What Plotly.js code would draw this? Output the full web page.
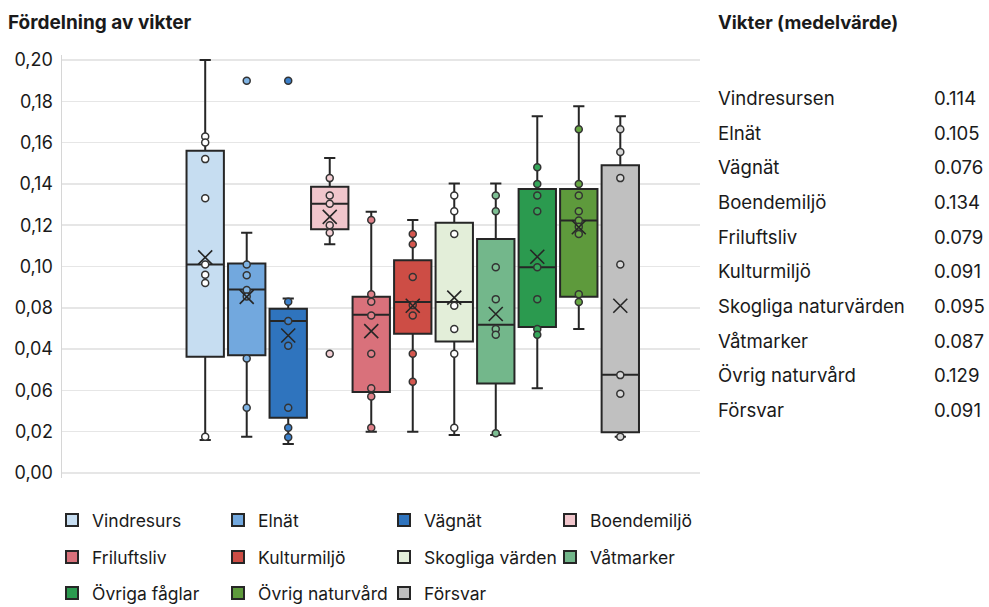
<!DOCTYPE html>
<html>
<head>
<meta charset="utf-8">
<script src="https://cdn.plot.ly/plotly-3.0.1.min.js"></script>
<style>html,body{margin:0;padding:0;background:#fff;}#chart{width:989px;height:607px;}</style>
</head>
<body>
<div id="chart"></div>
<script>
// ---- data ----
var categories = ["Vindresurs","Elnät","Vägnät","Boendemiljö","Friluftsliv","Kulturmiljö","Skogliga värden","Våtmarker","Övriga fåglar","Övrig naturvård","Försvar"];
var lowerFence = [0.016, 0.0176, 0.014, 0.1108, 0.020, 0.020, 0.0184, 0.0184, 0.041, 0.0697, 0.0176];
var q1Values   = [0.0563, 0.057, 0.0268, 0.118, 0.0392, 0.0674, 0.0637, 0.0434, 0.0707, 0.0853, 0.0197];
var medianValues = [0.101, 0.0889, 0.0736, 0.1304, 0.0766, 0.0828, 0.0828, 0.0718, 0.0996, 0.1223, 0.0476];
var q3Values   = [0.156, 0.1015, 0.0795, 0.1386, 0.0853, 0.103, 0.1212, 0.1133, 0.1375, 0.1375, 0.149];
var upperFence = [0.200, 0.1163, 0.0845, 0.1525, 0.1265, 0.1225, 0.1402, 0.1402, 0.1728, 0.1776, 0.1728];
var meanValues = [0.1044, 0.0853, 0.0666, 0.124, 0.0687, 0.081, 0.0849, 0.077, 0.1047, 0.119, 0.081];
var samplePoints = [
  [0.163, 0.160, 0.152, 0.133, 0.101, 0.096, 0.092, 0.0176],
  [0.190, 0.101, 0.0958, 0.0886, 0.0855, 0.0555, 0.0316],
  [0.190, 0.0829, 0.0736, 0.0616, 0.0316, 0.0219, 0.0173],
  [0.1428, 0.1344, 0.1304, 0.120, 0.1163, 0.0578],
  [0.1225, 0.0866, 0.0829, 0.0763, 0.0578, 0.041, 0.037, 0.0219],
  [0.1157, 0.1108, 0.0949, 0.0813, 0.0763, 0.0578, 0.0442],
  [0.1344, 0.1267, 0.1157, 0.081, 0.0697, 0.0578, 0.0219],
  [0.1344, 0.1267, 0.0996, 0.0842, 0.0697, 0.067, 0.0192],
  [0.1481, 0.140, 0.1344, 0.1267, 0.0996, 0.0842, 0.0697, 0.067],
  [0.1665, 0.140, 0.1344, 0.1267, 0.1223, 0.1192, 0.1157, 0.0866, 0.0828],
  [0.1665, 0.1554, 0.1428, 0.101, 0.0474, 0.0384, 0.0176]
];
var yTickValues = [0, 0.02, 0.04, 0.06, 0.08, 0.10, 0.12, 0.14, 0.16, 0.18, 0.20];
var yTickLabels = ["0,00","0,02","0,06","0,04","0,08","0,10","0,12","0,14","0,16","0,18","0,20"];
var tableTitle = "Vikter (medelvärde)";
var tableNames = ["Vindresursen","Elnät","Vägnät","Boendemiljö","Friluftsliv","Kulturmiljö","Skogliga naturvärden","Våtmarker","Övrig naturvård","Försvar"];
var tableValues = ["0.114","0.105","0.076","0.134","0.079","0.091","0.095","0.087","0.129","0.091"];

// ---- styles ----
var boxColors   = ["#c6ddf1","#72a8de","#2f74be","#f1c6cc","#d9717b","#cd4d45","#e3eed9","#73b78b","#2b9a4f","#5e9a3c","#c0c0c0"];
var pointColors = ["#ffffff","#80b4e4","#3b80cb","#f4d0d5","#e08089","#d5574f","#ffffff","#7dbf93","#35a65a","#67a843","#d8d8d8"];
var legendIds = ["legend","legend","legend","legend","legend2","legend2","legend2","legend2","legend3","legend3","legend3"];
var FONT = "Inter, Roboto, 'Noto Sans', sans-serif";
var TXT = "#1a1a1a";
var LINE = "#262626";

var traces = [];
categories.forEach(function(c, i){
  traces.push({
    type: "box", name: c, x: [c],
    q1: [q1Values[i]], median: [medianValues[i]], q3: [q3Values[i]],
    lowerfence: [lowerFence[i]], upperfence: [upperFence[i]],
    boxpoints: false, width: 0.9, whiskerwidth: 0.3,
    fillcolor: boxColors[i], line: {color: LINE, width: 2},
    legend: legendIds[i], hoverinfo: "skip"
  });
});
categories.forEach(function(c, i){
  traces.push({
    type: "scatter", mode: "markers", showlegend: false, hoverinfo: "skip",
    x: samplePoints[i].map(function(){ return c; }), y: samplePoints[i],
    marker: {symbol: "circle", size: 7, color: pointColors[i], line: {color: "#333333", width: 1.5}}
  });
});
traces.push({
  type: "scatter", mode: "markers", showlegend: false, hoverinfo: "skip",
  x: categories, y: meanValues,
  marker: {symbol: "x-thin-open", size: 14, color: LINE, line: {color: LINE, width: 1.6}}
});

// plot area: x 62..700, y 55..478
var plotL = 62, plotR = 700, plotT = 55, plotB = 478;
function px2x(p){ return (p - plotL) / (plotR - plotL); }
function py2y(p){ return (plotB - p) / (plotB - plotT); }

var annotations = [{
  text: "<b>" + tableTitle + "</b>", xref: "paper", yref: "paper",
  x: px2x(716), y: py2y(22), xanchor: "left", yanchor: "middle", showarrow: false,
  font: {family: FONT, size: 18.5, color: TXT}
}];
tableNames.forEach(function(n, i){
  var py = 98 + i * 34.67;
  annotations.push({text: n, xref: "paper", yref: "paper", x: px2x(716), y: py2y(py),
    xanchor: "left", yanchor: "middle", showarrow: false, font: {family: FONT, size: 18.6, color: TXT}});
  annotations.push({text: tableValues[i], xref: "paper", yref: "paper", x: px2x(932), y: py2y(py),
    xanchor: "left", yanchor: "middle", showarrow: false, font: {family: FONT, size: 18.6, color: TXT}});
});

function legendAt(py){
  return {orientation: "h", xref: "paper", yref: "paper", x: px2x(52), y: py2y(py),
    xanchor: "left", yanchor: "middle", entrywidth: 121, entrywidthmode: "pixels",
    font: {family: FONT, size: 17.5, color: TXT}, bgcolor: "rgba(0,0,0,0)", borderwidth: 0,
    itemclick: false, itemdoubleclick: false, traceorder: "normal"};
}

var layout = {
  width: 989, height: 607,
  margin: {l: plotL, r: 989 - plotR, t: plotT, b: 607 - plotB, autoexpand: false},
  paper_bgcolor: "#ffffff", plot_bgcolor: "#ffffff",
  font: {family: FONT, color: TXT},
  title: {text: "<b>Fördelning av vikter</b>", xref: "container", yref: "container",
    x: 8/989, y: 1 - 22/607, xanchor: "left", yanchor: "middle",
    font: {family: FONT, size: 19, color: TXT}},
  showlegend: true,
  boxmode: "overlay",
  xaxis: {type: "category", categoryorder: "array", categoryarray: categories,
    range: [-3.45, 11.92], showticklabels: false, showgrid: false, zeroline: false,
    showline: false, ticks: "", fixedrange: true},
  yaxis: {range: [-0.00242, 0.20242], tickvals: yTickValues, ticktext: yTickLabels,
    showgrid: true, gridcolor: "#e6e6e6", gridwidth: 1.5, zeroline: false,
    showline: true, linecolor: "#d6d6d6", linewidth: 1.5, ticks: "", ticklabelstandoff: 4,
    tickfont: {family: FONT, size: 18, color: TXT}, fixedrange: true},
  legend: legendAt(520),
  legend2: legendAt(557),
  legend3: legendAt(593),
  annotations: annotations
};

Plotly.newPlot("chart", traces, layout, {displayModeBar: false, staticPlot: true});
</script>
</body>
</html>
